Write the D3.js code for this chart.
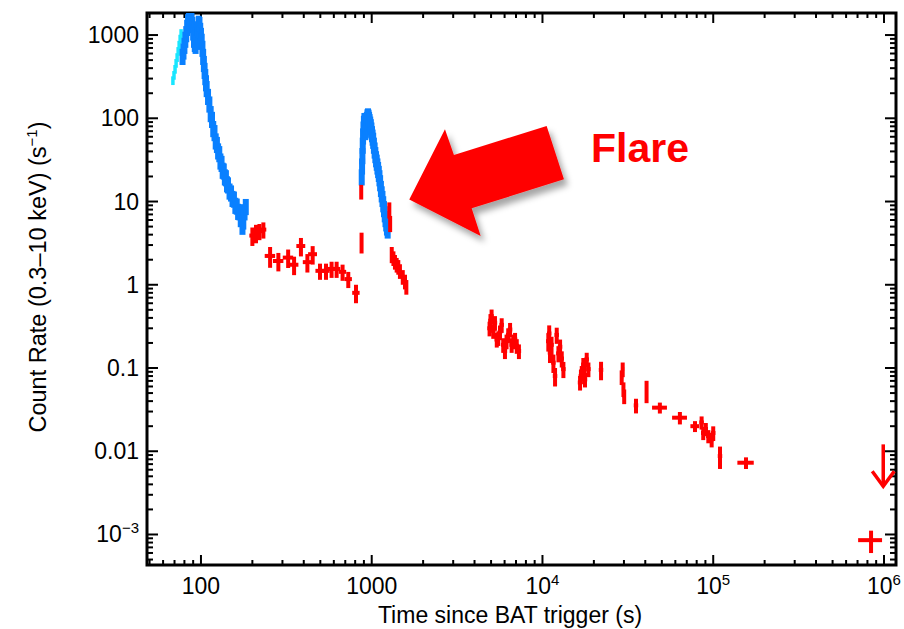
<!DOCTYPE html>
<html>
<head>
<meta charset="utf-8">
<script src="https://cdn.jsdelivr.net/npm/d3@7"></script>
<style>
  body { margin: 0; background: #fff; }
  svg { display: block; }
  text { font-family: "Liberation Sans", Arial, Helvetica, sans-serif; }
</style>
</head>
<body>
<svg class="svg-main" width="904" height="629"></svg>
<script>
// WT settling mode (cyan)
const cyanT = [68.5, 69.5, 70.5, 71.5, 72.5, 73.5, 74.5, 75.5, 76.5];
const cyanR = [285, 330, 390, 460, 540, 640, 760, 900, 1050];

// WT mode, first pulse (blue)
const blueT = [78, 79, 80, 81, 82, 83, 84, 85, 86, 87, 88, 89, 90, 91, 92, 93, 94, 95, 96, 97,
  98, 99, 100, 101, 102, 103, 104, 105, 106, 107, 108, 110, 112, 114, 116, 118, 120, 122, 124,
  126, 128, 130, 132, 134, 136, 138, 140, 142, 144, 147, 150, 153, 156, 159, 162, 165, 168,
  171, 174, 175, 177, 180, 183];
const blueR = [560, 650, 760, 900, 1050, 1250, 1450, 1700, 1900, 1800, 1600, 1350, 1100, 900,
  800, 760, 850, 1000, 1200, 1400, 1350, 1150, 1000, 850, 700, 560, 460, 380, 320, 270, 230,
  185, 150, 115, 98, 76, 68, 54, 49, 41, 38, 31, 29, 24, 23.5, 20, 19.5, 16.5, 16, 13.5, 12.8,
  11, 10.8, 9.1, 8.9, 7.7, 7.6, 6.3, 7.3, 5.1, 5.9, 7.6, 8.8];

// WT mode, flare (blue)
const flareT = [874, 878, 882, 886, 890, 895, 900, 906, 912, 918, 924, 930, 937, 944, 951,
  958, 965, 972, 980, 988, 996, 1004, 1012, 1020, 1030, 1040, 1050, 1060, 1070, 1080, 1090,
  1100, 1110, 1120, 1132, 1144, 1156, 1168, 1180, 1192, 1204, 1216, 1228, 1240];
const flareR = [20, 27, 36, 48, 62, 75, 88, 95, 80, 70, 75, 88, 98, 105, 108,
  104, 98, 92, 86, 80, 73, 66, 60, 55, 48, 42, 37, 33, 30, 27, 24.5,
  22, 19.5, 17, 14.5, 12.5, 11, 9.5, 8.3, 7.2, 6.3, 5.6, 5.0, 4.6];
const wtErr = 0.22;

// PC mode (red): time, rate, fractional errors
const redT = [200, 210, 220, 232,
  254, 284, 324, 351, 385, 420, 451, 498, 540, 582, 623, 675, 729, 809,
  868, 872,
  1268, 1282, 1310, 1340, 1368, 1400, 1431, 1463, 1520, 1566, 1595,
  4900, 4960, 5035, 5150, 5270, 5400, 5510, 5640, 5770, 5890, 6030, 6160, 6300, 6460, 6600, 6760, 6910, 7070, 7280,
  10820, 10950, 11070, 11300, 11590, 11850, 12120, 12400, 12680, 12970, 13260,
  16600, 16800, 16990, 17350, 17550, 17750, 18160, 18580,
  22030, 29100, 29500, 29800, 30100, 35300, 40700, 48700, 63800,
  78200, 85500, 87400, 90500, 93600, 97900, 100000, 109600, 155600, 840000];
const redR = [3.9, 4.2, 4.4, 4.6,
  2.22, 1.93, 2.12, 1.74, 2.92, 1.87, 2.33, 1.47, 1.47, 1.55, 1.55, 1.43, 1.17, 0.8,
  13.2, 3.3,
  8.0, 5.5, 2.33, 2.1, 1.9, 1.75, 1.65, 1.47, 1.25, 1.1, 0.95,
  0.30, 0.37, 0.42, 0.28, 0.35, 0.22, 0.23, 0.27, 0.33, 0.19, 0.16, 0.21, 0.25, 0.29, 0.19, 0.21, 0.22, 0.185, 0.16,
  0.21, 0.26, 0.153, 0.19, 0.116, 0.08, 0.25, 0.15, 0.18, 0.13, 0.097,
  0.067, 0.08, 0.088, 0.11, 0.095, 0.073, 0.127, 0.097,
  0.095, 0.078, 0.097, 0.056, 0.046, 0.0356, 0.054, 0.0334, 0.0253,
  0.020, 0.0222, 0.0166, 0.0185, 0.0152, 0.0139, 0.0166, 0.00875, 0.00728, 0.000855];
const redTErr = [0.04, 0.04, 0.04, 0.04,
  0.07, 0.07, 0.07, 0.06, 0.06, 0.06, 0.06, 0.06, 0.05, 0.05, 0.05, 0.05, 0.05, 0.05,
  0.008, 0.008,
  0.01, 0.01, 0.02, 0.02, 0.02, 0.02, 0.02, 0.02, 0.02, 0.02, 0.02,
  0.03, 0.03, 0.03, 0.03, 0.03, 0.03, 0.03, 0.03, 0.03, 0.03, 0.03, 0.03, 0.03, 0.03, 0.03, 0.03, 0.03, 0.03, 0.03,
  0.03, 0.03, 0.03, 0.03, 0.03, 0.03, 0.03, 0.03, 0.03, 0.03, 0.03,
  0.03, 0.03, 0.03, 0.03, 0.03, 0.03, 0.03, 0.03,
  0.03, 0.02, 0.02, 0.02, 0.02, 0.03, 0.015, 0.1, 0.1,
  0.06, 0.03, 0.03, 0.03, 0.03, 0.03, 0.03, 0.03, 0.11, 0.16];
const redRErr = [0.25, 0.25, 0.22, 0.22,
  0.28, 0.25, 0.25, 0.25, 0.25, 0.25, 0.25, 0.22, 0.22, 0.22, 0.22, 0.22, 0.22, 0.25,
  0.2, 0.28,
  0.22, 0.22, 0.22, 0.2, 0.2, 0.2, 0.2, 0.2, 0.2, 0.2, 0.2,
  0.2, 0.2, 0.2, 0.2, 0.2, 0.2, 0.2, 0.2, 0.2, 0.2, 0.2, 0.2, 0.2, 0.2, 0.2, 0.2, 0.2, 0.2, 0.2,
  0.25, 0.25, 0.25, 0.25, 0.25, 0.25, 0.22, 0.22, 0.22, 0.22, 0.22,
  0.2, 0.2, 0.2, 0.2, 0.2, 0.2, 0.2, 0.2,
  0.25, 0.2, 0.2, 0.2, 0.2, 0.2, 0.3, 0.15, 0.17,
  0.15, 0.18, 0.18, 0.18, 0.18, 0.2, 0.2, 0.3, 0.16, 0.3];

// upper limit
const ulT = [990000];
const ulR = [0.0121];
const ulTip = [0.0038];

// axis ticks
const xTickVals = [100, 1000, 1e4, 1e5, 1e6];
const xTickLabels = [["100", ""], ["1000", ""], ["10", "4"], ["10", "5"], ["10", "6"]];
const yTickVals = [1000, 100, 10, 1, 0.1, 0.01, 0.001];
const yTickLabels = [["1000", ""], ["100", ""], ["10", ""], ["1", ""], ["0.1", ""], ["0.01", ""], ["10", "\u22123"]];

// annotation arrow outline in (time, rate)
const arrowT = [1659, 2685, 3030, 10580, 13360, 3849, 4345];
const arrowR = [10.6, 73.6, 36.2, 80.7, 18.5, 8.28, 3.85];
const flareLabel = { t: 19230, r: 29.8, text: "Flare" };

const svg = d3.select(".svg-main");
const plotL = 147, plotR = 896, plotT = 13, plotB = 565;

const x = d3.scaleLog().domain([48.3, 1.176e6]).range([plotL, plotR]);
const y = d3.scaleLog().domain([4.3e-4, 1840]).range([plotB, plotT]);

const RED = "#ff0000";
const BLUE = "#0a80ff";
const CYAN = "#19e6ff";

const defs = svg.append("defs");
defs.append("clipPath").attr("id", "plot-clip")
  .append("rect")
  .attr("x", plotL).attr("y", plotT)
  .attr("width", plotR - plotL).attr("height", plotB - plotT);

const shadow = defs.append("filter").attr("id", "arrow-shadow")
  .attr("x", "-20%").attr("y", "-20%").attr("width", "150%").attr("height", "160%");
shadow.append("feDropShadow")
  .attr("dx", 4).attr("dy", 6)
  .attr("stdDeviation", 3)
  .attr("flood-color", "#000")
  .attr("flood-opacity", 0.35);

// minor + major ticks
const minorVals = (lo, hi) => {
  const out = [];
  for (let e = Math.floor(Math.log10(lo)); e <= Math.ceil(Math.log10(hi)); e++) {
    for (let m = 1; m < 10; m++) {
      const v = m * Math.pow(10, e);
      if (v >= lo && v <= hi) out.push({ v: v, major: m === 1 });
    }
  }
  return out;
};

const axes = svg.append("g").attr("class", "axes")
  .attr("stroke", "#000").attr("stroke-width", 2);

const xTicks = minorVals(x.domain()[0], x.domain()[1]);
axes.selectAll("line.xb")
  .data(xTicks)
  .enter().append("line")
  .attr("class", "xb")
  .attr("x1", d => x(d.v)).attr("x2", d => x(d.v))
  .attr("y1", plotB).attr("y2", d => plotB - (d.major ? 10 : 5));
axes.selectAll("line.xt")
  .data(xTicks)
  .enter().append("line")
  .attr("class", "xt")
  .attr("x1", d => x(d.v)).attr("x2", d => x(d.v))
  .attr("y1", plotT).attr("y2", d => plotT + (d.major ? 10 : 5));

const yTicks = minorVals(y.domain()[0], y.domain()[1]);
axes.selectAll("line.yl")
  .data(yTicks)
  .enter().append("line")
  .attr("class", "yl")
  .attr("y1", d => y(d.v)).attr("y2", d => y(d.v))
  .attr("x1", plotL).attr("x2", d => plotL + (d.major ? 11 : 6));
axes.selectAll("line.yr")
  .data(yTicks)
  .enter().append("line")
  .attr("class", "yr")
  .attr("y1", d => y(d.v)).attr("y2", d => y(d.v))
  .attr("x1", plotR).attr("x2", d => plotR - (d.major ? 11 : 6));

svg.append("rect")
  .attr("x", plotL).attr("y", plotT)
  .attr("width", plotR - plotL).attr("height", plotB - plotT)
  .attr("fill", "none").attr("stroke", "#000").attr("stroke-width", 3);

// tick labels
const xLab = svg.append("g").selectAll("text")
  .data(xTickVals)
  .enter().append("text")
  .attr("x", d => x(d))
  .attr("y", 594)
  .attr("text-anchor", "middle")
  .attr("font-size", 23);
xLab.append("tspan").text((d, i) => xTickLabels[i][0]);
xLab.append("tspan")
  .attr("font-size", 15).attr("dy", -9)
  .text((d, i) => xTickLabels[i][1]);

const yLab = svg.append("g").selectAll("text")
  .data(yTickVals)
  .enter().append("text")
  .attr("x", 139)
  .attr("y", d => y(d) + 8)
  .attr("text-anchor", "end")
  .attr("font-size", 23);
yLab.append("tspan").text((d, i) => yTickLabels[i][0]);
yLab.append("tspan")
  .attr("font-size", 15).attr("dy", -9)
  .text((d, i) => yTickLabels[i][1]);

// axis titles
svg.append("text")
  .attr("x", 510).attr("y", 623)
  .attr("text-anchor", "middle")
  .attr("font-size", 23)
  .text("Time since BAT trigger (s)");

const yTitle = svg.append("text")
  .attr("transform", "translate(46,277) rotate(-90)")
  .attr("text-anchor", "middle")
  .attr("font-size", 23.5);
yTitle.append("tspan").text("Count Rate (0.3\u201310 keV) (s");
yTitle.append("tspan").attr("font-size", 15).attr("dy", -9).text("\u22121");
yTitle.append("tspan").attr("dy", 9).text(")");

// data
const plot = svg.append("g").attr("clip-path", "url(#plot-clip)");

const drawBars = (g, ts, rs, tErr, rErr, color, width) => {
  const pts = ts.map((t, i) => ({ t: t, r: rs[i], dt: tErr[i], dr: rErr[i] }));
  const grp = g.append("g").attr("stroke", color).attr("stroke-width", width);
  grp.selectAll("line.v")
    .data(pts)
    .enter().append("line")
    .attr("class", "v")
    .attr("x1", d => x(d.t)).attr("x2", d => x(d.t))
    .attr("y1", d => y(d.r * (1 + d.dr))).attr("y2", d => y(d.r * (1 - d.dr)));
  grp.selectAll("line.h")
    .data(pts)
    .enter().append("line")
    .attr("class", "h")
    .attr("x1", d => x(d.t * (1 - d.dt))).attr("x2", d => x(d.t * (1 + d.dt)))
    .attr("y1", d => y(d.r)).attr("y2", d => y(d.r));
};

drawBars(plot, cyanT, cyanR, cyanT.map(() => 0.006), cyanR.map(() => 0.12), CYAN, 3.5);
drawBars(plot, blueT, blueR, blueT.map(() => 0.015), blueR.map(() => wtErr), BLUE, 6);
drawBars(plot, flareT, flareR, flareT.map(() => 0.008), flareR.map(() => wtErr), BLUE, 6);
drawBars(plot, redT, redR, redTErr, redRErr, RED, 4);

// upper limit arrow
const ul = plot.append("g").attr("stroke", RED).attr("stroke-width", 3.5).attr("fill", "none");
ul.selectAll("line")
  .data(ulT)
  .enter().append("line")
  .attr("x1", d => x(d)).attr("x2", d => x(d))
  .attr("y1", (d, i) => y(ulR[i])).attr("y2", (d, i) => y(ulTip[i]));
ul.selectAll("path")
  .data(ulT)
  .enter().append("path")
  .attr("d", (d, i) => {
    const cx = x(d), cy = y(ulTip[i]);
    return `M${cx - 11},${cy - 15}L${cx},${cy}L${cx + 11},${cy - 15}`;
  });

// annotation
svg.append("polygon")
  .attr("points", arrowT.map((t, i) => `${x(t)},${y(arrowR[i])}`).join(" "))
  .attr("fill", RED)
  .attr("filter", "url(#arrow-shadow)");

svg.append("text")
  .attr("x", x(flareLabel.t)).attr("y", y(flareLabel.r))
  .attr("fill", RED)
  .attr("font-family", "'Open Sans', sans-serif")
  .attr("font-weight", 700)
  .attr("font-size", 41)
  .text(flareLabel.text);
</script>
</body>
</html>
